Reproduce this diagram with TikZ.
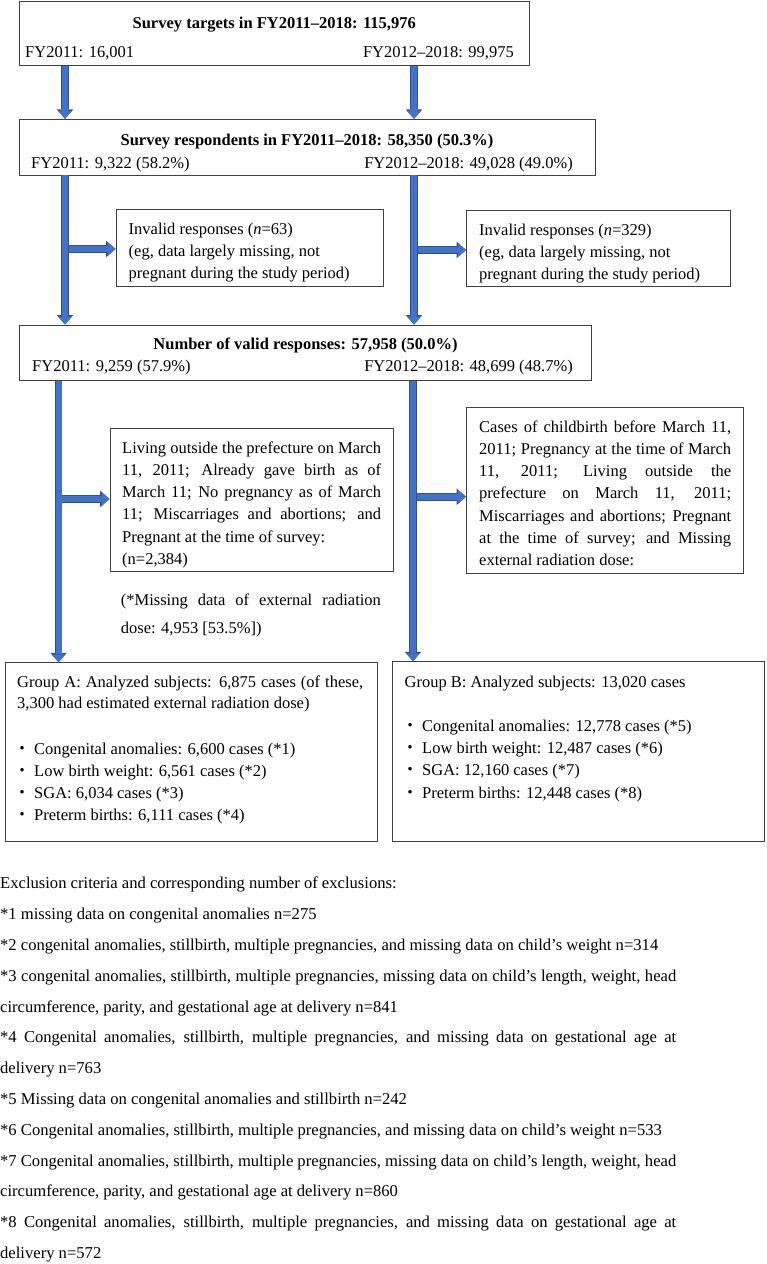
\documentclass[tikz,border=0pt]{standalone}
\usepackage{fontspec}
\setmainfont{Liberation Serif}
\newfontfamily\cjk{Noto Sans CJK JP}
\usetikzlibrary{arrows.meta,fit}
\definecolor{afill}{HTML}{4472C4}
\definecolor{aedge}{HTML}{2F528F}
\definecolor{bline}{HTML}{404040}
\newcommand\fs{\fontsize{16.5}{22}\selectfont}
\newcommand\fsf{\fontsize{16.6}{22}\selectfont}
\newcommand\jl[2]{\makebox[#1pt][s]{#2}}
\newcommand\bul{\makebox[16pt][c]{\cjk ・}\hspace{4pt}}
\tikzset{
  box/.style={draw=bline, line width=0.9pt, fill=white, inner sep=0pt},
  txt/.style={inner sep=0pt, anchor=base west, font=\fs},
  ftxt/.style={inner sep=0pt, anchor=base west, font=\fsf},
  txtc/.style={inner sep=0pt, anchor=base, font=\fs\bfseries},
  txte/.style={inner sep=0pt, anchor=base east, font=\fs},
  barrow/.style={line width=6pt, draw=afill,
     -{Triangle[length=8pt,width=14pt,line width=0pt]},
     preaction={draw=aedge, line width=7.6pt, -{Triangle[length=9.5pt,width=16.5pt,line width=0pt]}}},
}
\begin{document}
\begin{tikzpicture}[x=1pt,y=-1pt]
\fill[white] (0,0) rectangle (766,1264);
\useasboundingbox (0,0) rectangle (766,1264);

% column coordinates
\coordinate (xa) at (65,0);
\coordinate (xb) at (414,0);
\coordinate (xc) at (58.6,0);
\coordinate (xd) at (413,0);
\coordinate (j1) at (65,249);
\coordinate (j2) at (414,250);
\coordinate (j3) at (58.6,499);
\coordinate (j4) at (413,496.7);

% boxes
\node[box, fit={(19.5,1.7) (529,65.7)}] (b1) {};
\node[box, fit={(19.5,119.3) (595,175)}] (b2) {};
\node[box, fit={(116,209) (383.5,286)}] (inv1) {};
\node[box, fit={(466.5,210) (730,286)}] (inv2) {};
\node[box, fit={(19.5,325) (591,380.7)}] (b3) {};
\node[box, fit={(110,428) (393,571.7)}] (ex1) {};
\node[box, fit={(466.5,407.7) (743.5,573)}] (ex2) {};
\node[box, fit={(5,662.7) (377.6,841.7)}] (ga) {};
\node[box, fit={(392,661.7) (764.5,841)}] (gb) {};

% arrows
\draw[barrow] (b1.south -| xa) -- (b2.north -| xa);
\draw[barrow] (b1.south -| xb) -- (b2.north -| xb);
\draw[barrow] (j1) -- (inv1.west |- j1);
\draw[barrow] (j2) -- (inv2.west |- j2);
\draw[barrow] (b2.south -| xa) -- (b3.north -| xa);
\draw[barrow] (b2.south -| xb) -- (b3.north -| xb);
\draw[barrow] (j3) -- (ex1.west |- j3);
\draw[barrow] (j4) -- (ex2.west |- j4);
\draw[barrow] (b3.south -| xc) -- (ga.north -| xc);
\draw[barrow] (b3.south -| xd) -- (gb.north -| xd);

% box 1
\node[txtc] (b1t) at (274.25,28.8) {Survey targets in FY2011–2018: 115,976};
\node[txt] (b1l) at (25,57.2) {FY2011: 16,001};
\node[txte] (b1r) at (514,57.2) {FY2012–2018: 99,975};
% box 2
\node[txtc] (b2t) at (307,145.5) {Survey respondents in FY2011–2018: 58,350 (50.3\%)};
\node[txt] (b2l) at (31,168.2) {FY2011: 9,322 (58.2\%)};
\node[txte] (b2r) at (573,168.2) {FY2012–2018: 49,028 (49.0\%)};
% invalid
\node[txt] (i1a) at (128.5,234.5) {Invalid responses (\textit{n}=63)};
\node[txt] (i1b) at (128.5,256.2) {(eg, data largely missing, not};
\node[txt] (i1c) at (128.5,278.5) {pregnant during the study period)};
\node[txt] (i2a) at (479,235.5) {Invalid responses (\textit{n}=329)};
\node[txt] (i2b) at (479,257.5) {(eg, data largely missing, not};
\node[txt] (i2c) at (479,279.5) {pregnant during the study period)};
% box 3
\node[txtc] (b3t) at (305.5,349.5) {Number of valid responses: 57,958 (50.0\%)};
\node[txt] (b3l) at (32,371.2) {FY2011: 9,259 (57.9\%)};
\node[txte] (b3r) at (573,371.2) {FY2012–2018: 48,699 (48.7\%)};
% exclusion 1
\node[txt] (e1a) at (122,453.2) {\jl{259}{Living outside the prefecture on March}};
\node[txt] (e1b) at (122,475.5) {\jl{259}{11, 2011; Already gave birth as of}};
\node[txt] (e1c) at (122,497.5) {\jl{259}{March 11; No pregnancy as of March}};
\node[txt] (e1d) at (122,519.5) {\jl{259}{11; Miscarriages and abortions; and}};
\node[txt] (e1e) at (122,542.2) {Pregnant at the time of survey:};
\node[txt] (e1f) at (122,564.5) {(n=2,384)};
\node[txt] (m1) at (120.7,605.5) {\jl{260}{(*Missing data of external radiation}};
\node[txt] (m2) at (120.7,633.5) {dose: 4,953 [53.5\%])};
% exclusion 2
\node[txt] (e2a) at (479,432.2) {\jl{252}{Cases of childbirth before March 11,}};
\node[txt] (e2b) at (479,454.5) {\jl{252}{2011; Pregnancy at the time of March}};
\node[txt] (e2c) at (479,476.5) {\jl{252}{11, 2011; Living outside the}};
\node[txt] (e2d) at (479,498.5) {\jl{252}{prefecture on March 11, 2011;}};
\node[txt] (e2e) at (479,521.2) {\jl{252}{Miscarriages and abortions; Pregnant}};
\node[txt] (e2f) at (479,543.5) {\jl{252}{at the time of survey; and Missing}};
\node[txt] (e2g) at (479,565.5) {external radiation dose:};
% group A
\node[txt] (ga1) at (17,687.2) {\jl{346}{Group A: Analyzed subjects: 6,875 cases (of these,}};
\node[txt] (ga2) at (17,708.5) {3,300 had estimated external radiation dose)};
\node[txt] (ga3) at (14,754.5) {\bul Congenital anomalies: 6,600 cases (*1)};
\node[txt] (ga4) at (14,776.2) {\bul Low birth weight: 6,561 cases (*2)};
\node[txt] (ga5) at (14,798.2) {\bul SGA: 6,034 cases (*3)};
\node[txt] (ga6) at (14,820.5) {\bul Preterm births: 6,111 cases (*4)};
% group B
\node[txt] (gb1) at (404.5,687.2) {Group B: Analyzed subjects: 13,020 cases};
\node[txt] (gb3) at (402,731.5) {\bul Congenital anomalies: 12,778 cases (*5)};
\node[txt] (gb4) at (402,753.5) {\bul Low birth weight: 12,487 cases (*6)};
\node[txt] (gb5) at (402,775.5) {\bul SGA: 12,160 cases (*7)};
\node[txt] (gb6) at (402,798.2) {\bul Preterm births: 12,448 cases (*8)};
% footnotes
\node[ftxt] (f0) at (0,888.8) {Exclusion criteria and corresponding number of exclusions:};
\node[ftxt] (f1) at (0,919.6) {*1 missing data on congenital anomalies n=275};
\node[ftxt] (f2) at (0,950.4) {*2 congenital anomalies, stillbirth, multiple pregnancies, and missing data on child’s weight n=314};
\node[ftxt] (f3) at (0,981.2) {\jl{676}{*3 congenital anomalies, stillbirth, multiple pregnancies, missing data on child’s length, weight, head}};
\node[ftxt] (f4) at (0,1012.0) {circumference, parity, and gestational age at delivery n=841};
\node[ftxt] (f5) at (0,1042.9) {\jl{676}{*4 Congenital anomalies, stillbirth, multiple pregnancies, and missing data on gestational age at}};
\node[ftxt] (f6) at (0,1073.7) {delivery n=763};
\node[ftxt] (f7) at (0,1104.5) {*5 Missing data on congenital anomalies and stillbirth n=242};
\node[ftxt] (f8) at (0,1135.3) {*6 Congenital anomalies, stillbirth, multiple pregnancies, and missing data on child’s weight n=533};
\node[ftxt] (f9) at (0,1166.1) {\jl{676}{*7 Congenital anomalies, stillbirth, multiple pregnancies, missing data on child’s length, weight, head}};
\node[ftxt] (f10) at (0,1196.9) {circumference, parity, and gestational age at delivery n=860};
\node[ftxt] (f11) at (0,1227.7) {\jl{676}{*8 Congenital anomalies, stillbirth, multiple pregnancies, and missing data on gestational age at}};
\node[ftxt] (f12) at (0,1258.5) {delivery n=572};
\end{tikzpicture}
\end{document}
